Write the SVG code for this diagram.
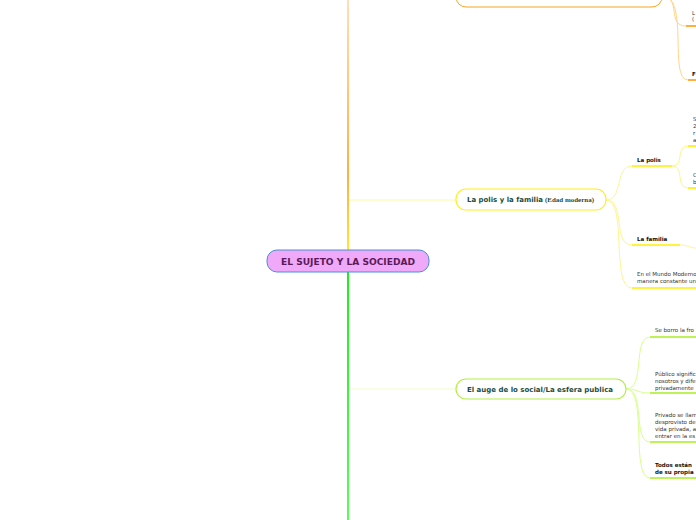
<svg xmlns="http://www.w3.org/2000/svg" width="696" height="520" viewBox="0 0 696 520">
<defs>
<linearGradient id="gTop" x1="0" y1="0" x2="0" y2="250" gradientUnits="userSpaceOnUse">
<stop offset="0" stop-color="#ffd7a0"/>
<stop offset="0.7" stop-color="#ff9a10"/>
<stop offset="1" stop-color="#ffe000"/>
</linearGradient>
<linearGradient id="gBot" x1="0" y1="272" x2="0" y2="520" gradientUnits="userSpaceOnUse">
<stop offset="0" stop-color="#00ee00"/>
<stop offset="1" stop-color="#44ff44"/>
</linearGradient>
</defs>
<style>
.sm{font-family:"DejaVu Sans",sans-serif;font-size:5.5px;fill:#333}
.smb{font-family:"DejaVu Sans",sans-serif;font-size:5.5px;font-weight:bold;fill:#111}
.mid{font-family:"DejaVu Sans",sans-serif;font-size:7px;font-weight:bold;fill:#1d4d3d}
.co{fill:none;stroke:#ffd58a;stroke-width:1}
.cy{fill:none;stroke:#fff590;stroke-width:1}
.cg{fill:none;stroke:#d8ff90;stroke-width:1}
.uo{stroke:#ff9a10;stroke-width:1.6}
.uy{stroke:#ffee00;stroke-width:1.6}
.ug{stroke:#aaee22;stroke-width:1.6}
</style>
<rect width="696" height="520" fill="#ffffff"/>
<g id="connectors">
<line x1="348" y1="0" x2="348" y2="250" stroke="url(#gTop)" stroke-width="1.6"/>
<line x1="348" y1="272" x2="348" y2="520" stroke="url(#gBot)" stroke-width="1.8"/>
<line x1="349" y1="200" x2="456" y2="200" stroke="#fff8a8" stroke-width="1"/>
<line x1="349" y1="389" x2="456" y2="389" stroke="#eeffc8" stroke-width="1"/>
<path class="co" d="M662,-4 C682,-4 666,26 686,26"/>
<path class="co" d="M662,-4 C690,-4 668,80 688,80"/>
<path class="cy" d="M606,200 C624,200 614,166 632,166"/>
<path class="cy" d="M606,200 C626,200 612,245 632,245"/>
<path class="cy" d="M606,200 C628,200 610,288 632,288"/>
<path class="cy" d="M672,166 C685,166 675,146 688,146"/>
<path class="cy" d="M672,166 C685,166 675,188 688,188"/>
<path class="cy" d="M680,245 C688,245 690,248 696,248"/>
<path class="cg" d="M626,389 C646,389 632,337 650,337"/>
<path class="cg" d="M626,389 C640,389 636,393 650,393"/>
<path class="cg" d="M626,389 C646,389 632,442 650,442"/>
<path class="cg" d="M626,389 C648,389 630,478 650,478"/>
</g>
<g id="root">
<rect x="267" y="250" width="162" height="22" rx="10" fill="#f0a8f8" stroke="#4a8ed8" stroke-width="1"/>
<text x="348" y="264.5" text-anchor="middle" font-family="DejaVu Sans, sans-serif" font-size="8" font-weight="bold" fill="#5a1a5a" textLength="134" lengthAdjust="spacingAndGlyphs">EL SUJETO Y LA SOCIEDAD</text>
</g>
<g id="node-top">
<rect x="456" y="-20" width="206" height="27" rx="10" fill="#ffffff" stroke="#f5a623" stroke-width="1"/>
</g>
<g id="node-top-children">
<line class="uo" x1="686" y1="26" x2="696" y2="26"/>
<text class="sm" x="692" y="15">L</text>
<text class="sm" x="692" y="21">(</text>
<line class="uo" x1="688" y1="80" x2="696" y2="80"/>
<text class="smb" x="692" y="76">F</text>
</g>
<g id="node-polis">
<rect x="456" y="189" width="150" height="21" rx="10" fill="#ffffff" stroke="#ffee22" stroke-width="1.2"/>
<text class="mid" x="467" y="202" textLength="76" lengthAdjust="spacingAndGlyphs">La polis y la familia</text>
<text x="545" y="202" font-family="Liberation Serif, serif" font-size="6" font-weight="bold" fill="#1d4d3d" textLength="49" lengthAdjust="spacingAndGlyphs">(Edad moderna)</text>
</g>
<g id="node-lapolis">
<line class="uy" x1="632" y1="166" x2="672" y2="166"/>
<text class="smb" x="637" y="162">La polis</text>
</g>
<g id="node-lapolis-a">
<line class="uy" x1="688" y1="146" x2="696" y2="146"/>
<text class="sm" x="693" y="121">S</text>
<text class="sm" x="693" y="128">2</text>
<text class="sm" x="693" y="135">r</text>
<text class="sm" x="693" y="142">a</text>
</g>
<g id="node-lapolis-b">
<line class="uy" x1="688" y1="188" x2="696" y2="188"/>
<text class="sm" x="693" y="177">C</text>
<text class="sm" x="693" y="184">b</text>
</g>
<g id="node-familia">
<line class="uy" x1="632" y1="245" x2="680" y2="245"/>
<text class="smb" x="637" y="241">La familia</text>
</g>
<g id="node-mundo">
<line class="uy" x1="632" y1="288" x2="696" y2="288"/>
<text class="sm" x="637" y="276">En el Mundo Moderno</text>
<text class="sm" x="637" y="283">manera constante un</text>
</g>
<g id="node-auge">
<rect x="456" y="379" width="170" height="20" rx="10" fill="#ffffff" stroke="#b4ee44" stroke-width="1.2"/>
<text class="mid" x="467" y="392" textLength="146" lengthAdjust="spacingAndGlyphs">El auge de lo social/La esfera publica</text>
</g>
<g id="node-borro">
<line class="ug" x1="650" y1="337" x2="696" y2="337"/>
<text class="sm" x="655" y="332">Se borro la fro</text>
</g>
<g id="node-publico">
<line class="ug" x1="650" y1="393" x2="696" y2="393"/>
<text class="sm" x="655" y="376">Público signific</text>
<text class="sm" x="655" y="383">nosotros y dife</text>
<text class="sm" x="655" y="390">privadamente</text>
</g>
<g id="node-privado">
<line class="ug" x1="650" y1="442" x2="696" y2="442"/>
<text class="sm" x="655" y="417">Privado se llam</text>
<text class="sm" x="655" y="424">desprovisto de</text>
<text class="sm" x="655" y="431">vida privada, a</text>
<text class="sm" x="655" y="438">entrar en la es</text>
</g>
<g id="node-todos">
<line class="ug" x1="650" y1="478" x2="696" y2="478"/>
<text class="smb" x="655" y="467">Todos están</text>
<text class="smb" x="655" y="474">de su propia</text>
</g>
</svg>
